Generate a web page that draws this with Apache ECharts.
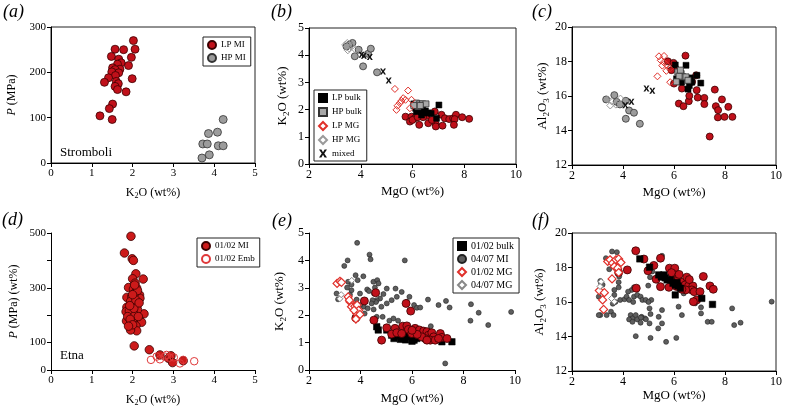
<!DOCTYPE html>
<html><head><meta charset="utf-8">
<script src="https://cdn.jsdelivr.net/npm/echarts@6/dist/echarts.min.js"></script>
<style>html,body{margin:0;padding:0;background:#fff}#c{width:785px;height:411px}</style>
</head><body><div id="c"></div>
<script>
// ---------- data ----------
// (a) Stromboli: [K2O, P]
const aLPMI = [[2.02,270],[2.06,251],[1.57,251],[1.78,250],[1.48,235],[1.97,233],[1.66,229],[1.72,221],[1.63,218],[1.90,215],[1.51,210],[1.69,207],[1.57,206],[1.49,201],[1.66,199],[1.58,193],[1.41,188],[1.31,178],[1.99,186],[1.60,180],[1.65,175],[1.57,169],[1.63,162],[1.84,157],[1.51,130],[1.43,120],[1.20,104],[1.50,96]];
const aHPMI = [[4.22,96],[4.08,68],[3.86,65],[3.72,42],[3.83,42],[4.10,38],[4.22,38],[3.88,18],[3.70,11]];
// (b) Stromboli: [MgO, K2O]
const bLPMI = [[5.73,1.74],[5.96,1.74],[5.90,1.56],[6.09,1.68],[6.26,1.44],[6.61,1.50],[6.90,1.47],[6.90,1.38],[7.16,1.41],[7.12,1.81],[7.25,1.68],[7.42,1.65],[7.57,1.68],[7.68,1.81],[7.63,1.65],[7.60,1.44],[7.92,1.72],[8.19,1.66],[6.54,1.77],[6.41,1.72],[6.86,1.93],[6.00,1.62],[6.20,1.72],[6.75,1.62]];
const bHPMI = [[3.68,4.45],[3.92,4.20],[3.77,3.96],[4.28,4.05],[4.39,4.24],[4.09,3.59],[4.63,3.37],[3.55,4.38],[3.45,4.32]];
const bLPbulk = [[6.05,2.21],[6.12,2.05],[6.25,1.98],[6.35,1.92],[6.45,1.88],[6.60,1.88],[6.72,1.86],[7.02,2.17],[6.93,1.68],[6.15,1.93],[6.35,1.80],[6.50,1.95],[6.20,2.10],[6.40,2.05]];
const bHPbulk = [[6.15,2.24],[6.28,2.21],[6.39,2.21],[6.52,2.21],[6.21,2.11],[6.05,2.15],[6.30,2.15]];
const bLPMG = [[5.32,2.76],[5.83,2.70],[5.64,2.42],[5.57,2.32],[5.73,2.36],[5.42,2.14],[5.38,1.99],[5.96,2.36],[5.90,2.05],[5.51,2.24]];
const bHPMG = [[3.40,4.38],[3.48,4.45],[3.55,4.25],[3.62,4.35],[3.80,4.20],[3.50,4.18]];
const bMixed = [[4.03,4.02],[4.35,3.93],[4.86,3.40],[5.08,3.07],[4.12,3.98]];
// (c) Stromboli: [MgO, Al2O3]
const cLPMI = [[5.76,18.01],[5.98,17.92],[6.45,18.34],[6.00,16.72],[6.19,15.56],[6.37,15.41],[6.31,16.43],[6.58,15.70],[6.60,16.01],[6.71,16.82],[6.89,16.34],[6.93,15.91],[6.87,17.20],[7.19,15.89],[7.19,15.53],[7.40,13.65],[7.60,16.37],[7.64,15.41],[7.73,15.18],[7.72,14.76],[7.88,15.80],[8.13,15.37],[7.98,14.79],[8.29,14.79],[6.05,17.60],[5.90,17.50]];
const cHPMI = [[3.34,15.80],[3.66,16.05],[3.75,15.66],[3.88,15.51],[4.11,15.72],[4.24,15.16],[4.43,15.03],[4.11,14.68],[4.66,14.39]];
const cLPbulk = [[6.05,17.80],[6.47,17.78],[6.10,17.00],[6.30,16.80],[6.60,16.90],[6.60,16.60],[6.55,16.40],[6.70,16.80],[7.05,16.75],[6.90,17.20],[6.35,17.10],[6.65,17.05]];
const cHPbulk = [[6.15,17.39],[6.28,17.30],[6.34,17.11],[6.20,17.15],[6.47,17.11],[6.09,16.82],[6.55,16.91],[6.25,17.50]];
const cLPMG = [[5.41,18.30],[5.61,18.32],[5.35,17.14],[5.54,17.76],[5.70,17.82],[5.83,17.59],[5.85,16.80],[5.48,18.07],[5.70,17.46],[5.60,17.95]];
const cHPMG = [[3.40,15.80],[3.55,15.70],[3.72,15.50],[3.50,15.45],[3.90,15.85]];
const cMixed = [[4.09,15.47],[4.33,15.66],[4.92,16.43],[5.15,16.30]];
// (d) Etna: [K2O, P]
const dMI = [[1.96,488],[1.80,427],[1.99,406],[2.02,400],[2.08,351],[2.00,333],[2.26,332],[2.06,317],[2.10,299],[1.90,301],[2.02,295],[2.17,274],[1.86,265],[1.98,268],[2.18,262],[2.04,241],[1.86,229],[2.10,232],[1.84,213],[2.11,210],[1.98,201],[2.28,205],[1.85,179],[2.16,185],[2.22,174],[1.98,173],[1.98,156],[2.08,161],[2.10,143],[1.95,146],[2.04,88],[2.41,74],[2.67,55],[2.88,43],[2.94,52],[2.98,27],[3.24,34],[2.05,280],[1.95,250],[2.08,255],[2.12,220],[1.92,215],[2.02,190],[1.88,195],[2.06,200],[2.14,195],[1.94,185],[2.00,165],[1.90,160],[2.03,225],[2.12,290],[2.05,310],[2.00,275],[2.16,245],[1.93,235]];
const dEmb = [[2.45,37],[2.59,49],[2.67,39],[2.79,49],[2.83,55],[3.01,46],[3.16,24],[3.24,37],[3.51,32],[2.90,45]];
// (e) Etna: [MgO, K2O]
const eMI0407 = [[3.87,4.64],[4.35,4.21],[4.39,4.04],[3.50,4.00],[3.37,3.80],[5.72,4.00],[3.81,3.46],[3.89,3.28],[3.52,3.22],[3.65,3.12],[3.48,3.01],[4.11,3.42],[3.65,2.91],[3.59,2.75],[3.52,2.63],[3.85,2.57],[3.98,2.79],[4.26,2.94],[4.33,2.88],[4.50,3.22],[4.65,3.28],[4.52,2.79],[4.76,2.61],[4.89,2.77],[4.63,2.55],[5.02,2.97],[5.36,2.97],[5.60,2.85],[5.41,2.67],[5.21,2.55],[5.80,2.49],[6.08,2.37],[6.19,2.27],[6.32,2.28],[6.62,2.57],[7.03,2.37],[7.32,2.52],[7.46,2.28],[8.29,2.40],[8.59,2.09],[8.96,1.64],[9.85,2.12],[8.27,1.80],[5.90,2.67],[4.13,2.31],[4.28,2.25],[4.51,2.21],[4.81,2.31],[5.02,2.43],[4.86,1.94],[4.63,1.94],[5.12,1.80],[5.28,1.88],[5.46,1.80],[4.60,2.48],[4.47,2.55],[3.98,2.37],[3.85,2.21],[4.16,2.06],[4.43,2.43],[6.73,1.60],[7.29,0.24],[3.07,2.79],[3.13,2.58],[4.70,3.16],[4.56,3.01]];
const eMI0102 = [[4.59,2.82],[4.15,2.52],[5.77,2.43],[5.95,2.15],[4.52,1.82],[3.82,1.90],[5.02,1.54],[4.82,1.09],[5.34,1.52],[5.64,1.60],[5.80,1.61],[5.86,1.48],[6.12,1.52],[6.29,1.46],[6.45,1.42],[6.58,1.40],[6.64,1.27],[6.77,1.36],[6.84,1.21],[6.71,1.09],[6.51,1.15],[6.38,1.21],[7.10,1.33],[7.16,1.19],[7.36,1.15],[5.21,1.31],[5.41,1.36],[5.60,1.33],[6.90,1.09],[7.03,1.15],[6.58,1.09],[5.99,1.33],[6.20,1.30],[6.00,1.45]];
const eBulk0102 = [[4.63,1.58],[4.69,1.46],[5.02,1.46],[5.21,1.27],[5.41,1.33],[5.47,1.24],[5.60,1.27],[5.67,1.15],[5.80,1.24],[5.90,1.27],[5.99,1.21],[6.08,1.09],[6.12,1.21],[6.19,1.15],[7.16,1.03],[7.55,1.03],[5.30,1.15],[5.55,1.12],[5.75,1.10],[6.00,1.05]];
const eMG0102 = [[3.09,3.16],[3.20,3.24],[3.26,3.20],[3.52,2.67],[3.59,2.49],[3.65,2.31],[3.57,2.55],[3.78,2.33],[3.87,2.37],[3.85,2.06],[3.93,2.18],[3.98,2.03],[3.82,1.86],[3.75,2.18]];
const eMG0407 = [[3.20,2.60],[3.66,3.27],[3.25,2.75]];
// (f) Etna: [MgO, Al2O3]
const fMI0407 = [[3.57,18.93],[3.76,18.89],[3.33,18.54],[3.46,17.90],[3.85,17.48],[3.83,17.15],[3.11,17.22],[3.14,17.09],[3.05,16.31],[3.11,15.24],[3.05,15.24],[3.36,15.24],[3.53,15.44],[3.63,15.24],[3.66,16.70],[3.66,16.41],[3.83,16.85],[3.89,16.12],[4.06,16.16],[4.14,16.31],[4.24,16.12],[4.34,16.70],[4.43,16.85],[4.43,16.31],[4.56,16.41],[4.69,16.31],[4.76,16.12],[4.89,16.12],[4.30,15.24],[4.37,15.05],[4.24,14.99],[4.37,14.85],[4.50,15.24],[4.56,14.99],[4.69,14.80],[4.73,15.14],[4.86,15.05],[5.04,15.63],[5.08,15.30],[5.11,16.12],[5.04,14.76],[5.40,15.14],[5.38,14.47],[5.53,14.76],[5.53,15.53],[4.50,14.02],[5.08,13.92],[5.69,13.69],[6.09,13.92],[6.31,15.24],[6.18,15.73],[6.38,16.50],[7.06,15.69],[7.06,15.34],[7.32,14.85],[7.48,14.85],[8.28,15.63],[8.36,14.66],[8.61,14.80],[9.83,16.02],[5.06,17.44],[5.28,17.38],[4.99,16.95],[5.15,17.77],[5.53,18.68],[3.85,17.74],[6.83,15.92],[3.20,17.00],[3.60,15.90],[3.70,16.00],[4.20,16.60],[4.40,16.00],[4.70,15.10],[4.90,15.00],[5.00,16.00]];
const fMI0102 = [[4.50,18.97],[4.82,18.49],[5.47,18.54],[5.21,18.12],[4.98,17.81],[4.17,17.86],[3.83,17.71],[4.52,16.80],[5.30,17.32],[5.82,17.96],[6.03,17.96],[6.05,17.57],[5.92,17.28],[6.16,17.28],[6.31,17.15],[6.50,17.44],[6.44,16.99],[6.57,16.93],[6.74,16.93],[6.70,16.70],[6.46,16.70],[6.31,16.74],[6.79,16.60],[7.02,16.60],[6.89,16.12],[6.76,16.02],[7.15,17.48],[7.41,16.93],[7.54,16.74],[5.80,16.85],[5.47,16.89],[5.90,17.70],[6.20,17.60],[6.60,17.30],[6.10,16.90]];
const fBulk0102 = [[4.66,18.50],[5.04,18.02],[5.40,17.57],[5.60,17.57],[5.73,17.28],[5.86,17.28],[5.96,17.09],[6.12,17.13],[6.16,16.93],[6.05,16.41],[6.05,16.99],[6.25,16.80],[7.09,16.21],[7.51,15.86],[5.50,17.45],[5.65,17.40]];
const fMG0102 = [[3.40,18.35],[3.49,18.45],[3.59,18.25],[3.72,18.45],[3.83,18.50],[3.92,18.29],[3.66,18.06],[3.79,17.96],[3.57,17.34],[3.07,16.66],[3.27,16.54],[3.20,16.12],[3.24,15.57],[3.83,17.71]];
const fMG0407 = [[3.14,17.18],[3.66,16.02],[3.10,16.90],[3.55,16.20]];
// axis ranges / labels
const panelLabels = ['(a)','(b)','(c)','(d)','(e)','(f)'];
const xRanges = [[0,5,1],[2,10,2],[2,10,2],[0,5,1],[2,10,2],[2,10,2]];
const yRanges = [[0,300,100],[0,5,1],[12,20,2],[0,500,100],[0,5,1],[12,20,2]];
const dYLabels = [0,100,300,500];

// ---------- chart ----------
const FONT = '"Liberation Serif", "Times New Roman", serif';
const RED = '#c0101a', REDB = '#3b0000', DIAR = '#e0302a';
const XPATH = 'path://M0,0L3,0L5,3.5L7,0L10,0L6.6,5L10,10L7,10L5,6.5L3,10L0,10L3.4,5Z';
const richBase = (fs) => ({
  n:{fontFamily:FONT,fontSize:fs,color:'#000',fontWeight:'normal'},
  i:{fontFamily:FONT,fontSize:fs,color:'#000',fontStyle:'italic',fontWeight:'normal'},
  s:{fontFamily:FONT,fontSize:Math.round(fs*0.68),color:'#000',fontWeight:'normal',padding:[7,0,0,0]}
});
const names = {
  k2o:'{n|K}{s|2}{n|O (wt%)}', mgo:'{n|MgO (wt%)}', al:'{n|Al}{s|2}{n|O}{s|3}{n| (wt%)}',
  p:'{i|P}{n| (MPa)}', pd:'{i|P}{n| (MPa) (wt%)}'
};
const grids = [
  {left:51,top:27,width:204,height:136,show:true},
  {left:309,top:28,width:207,height:136,show:true},
  {left:572,top:27,width:205,height:138,show:true},
  {left:51,top:233,width:204,height:137,show:false},
  {left:309,top:233,width:206,height:137,show:false},
  {left:572,top:233,width:206,height:138,show:true}
].map(g=>Object.assign(g,{borderColor:'#222',borderWidth:1}));
const xNames = [names.k2o,names.mgo,names.mgo,names.k2o,names.mgo,names.mgo];
const yNames = [names.p,names.k2o,names.al,names.pd,names.k2o,names.al];
const xGaps = [22,21,21,22,22,14];
const yGaps = [33,18,21,31,21,24];
const lblFs = [11,12,12,11,12,12];
const nameFs = [12,13,13,12,13,13];
function axis(i, isX){
  const r = isX ? xRanges[i] : yRanges[i];
  const ax = {type:'value',gridIndex:i,min:r[0],max:r[1],interval:r[2],
    name: isX ? xNames[i] : yNames[i], nameLocation:'middle', nameGap: isX ? xGaps[i] : yGaps[i],
    nameTextStyle:{fontFamily:FONT,fontSize:nameFs[i],fontWeight:'normal',color:'#000',rich:richBase(nameFs[i])},
    axisLine:{show:true,onZero:false,lineStyle:{color:'#000',width:1}},
    axisTick:{show:true,length:4,lineStyle:{color:'#000'}},
    axisLabel:{fontFamily:FONT,fontSize:lblFs[i],color:'#000',margin:5},
    splitLine:{show:false}};
  if(!isX && i===3) ax.axisLabel.formatter = v => dYLabels.indexOf(v)>=0 ? String(v) : '';
  return ax;
}
function sc(name, data, gi, symbol, size, color, border, bw, z){
  return {type:'scatter',name,data,xAxisIndex:gi,yAxisIndex:gi,symbol,symbolSize:size,
    itemStyle:{color,borderColor:border,borderWidth:bw,opacity:1},z:z||2,silent:true,
    emphasis:{disabled:true},animation:false};
}
const series = [
  sc('LP MI', aLPMI, 0, 'circle', 8, RED, REDB, 0.8),
  sc('HP MI', aHPMI, 0, 'circle', 8, '#9c9c9c', '#333', 0.8),
  sc('LP MI b', bLPMI, 1, 'circle', 7, RED, REDB, 0.8),
  sc('HP MI b', bHPMI, 1, 'circle', 7, '#9c9c9c', '#333', 0.8),
  sc('LP bulk', bLPbulk, 1, 'rect', 6, '#000', '#000', 0.5, 3),
  sc('HP bulk', bHPbulk, 1, 'rect', 6, '#a8a8a8', '#333', 0.8, 3),
  sc('LP MG', bLPMG, 1, 'diamond', 7, 'rgba(255,255,255,0)', DIAR, 1, 4),
  sc('HP MG', bHPMG, 1, 'diamond', 7, 'rgba(255,255,255,0)', '#9a9a9a', 1, 4),
  sc('mixed', bMixed, 1, XPATH, 6, '#111', '#111', 0, 5),
  sc('LP MI c', cLPMI, 2, 'circle', 7, RED, REDB, 0.8),
  sc('HP MI c', cHPMI, 2, 'circle', 7, '#9c9c9c', '#333', 0.8),
  sc('LP bulk c', cLPbulk, 2, 'rect', 6, '#000', '#000', 0.5, 3),
  sc('HP bulk c', cHPbulk, 2, 'rect', 6, '#a8a8a8', '#333', 0.8, 3),
  sc('LP MG c', cLPMG, 2, 'diamond', 7, 'rgba(255,255,255,0)', DIAR, 1, 4),
  sc('HP MG c', cHPMG, 2, 'diamond', 7, 'rgba(255,255,255,0)', '#9a9a9a', 1, 4),
  sc('mixed c', cMixed, 2, XPATH, 6, '#111', '#111', 0, 5),
  sc('01/02 MI', dMI, 3, 'circle', 8.5, '#cc1a1a', '#3b0000', 0.8),
  sc('01/02 Emb', dEmb, 3, 'circle', 7.5, 'rgba(255,255,255,0)', '#e0393a', 1, 3),
  sc('04/07 MI', eMI0407, 4, 'circle', 5, '#5e5e5e', '#222', 0.6),
  sc('01/02 bulk', eBulk0102, 4, 'rect', 6.5, '#000', '#000', 0.5, 3),
  sc('01/02 MI e', eMI0102, 4, 'circle', 8, RED, REDB, 0.8, 3),
  sc('01/02 MG', eMG0102, 4, 'diamond', 8, '#fff', DIAR, 1.2, 4),
  sc('04/07 MG', eMG0407, 4, 'diamond', 6, '#fff', '#888', 1, 4),
  sc('04/07 MI f', fMI0407, 5, 'circle', 5, '#5e5e5e', '#222', 0.6),
  sc('01/02 MI f', fMI0102, 5, 'circle', 8, RED, REDB, 0.8, 3),
  sc('01/02 bulk f', fBulk0102, 5, 'rect', 6.5, '#000', '#000', 0.5, 3),
  sc('01/02 MG f', fMG0102, 5, 'diamond', 8, '#fff', DIAR, 1.2, 4),
  sc('04/07 MG f', fMG0407, 5, 'diamond', 6, '#fff', '#888', 1, 4)
];
const lgBase = (data, left, top, fs, gap) => ({data, orient:'vertical', left, top, itemWidth:8, itemHeight:8,
  itemGap:gap, padding:[3,5,3,4], borderColor:'#222', borderWidth:1, backgroundColor:'#fff',
  selectedMode:false, textStyle:{fontFamily:FONT,fontSize:fs,color:'#000'}, z:10});
const legends = [
  lgBase(['LP MI','HP MI'], 203, 37, 9, 3),
  lgBase(['LP bulk','HP bulk','LP MG','HP MG','mixed'], 314, 90, 9, 4),
  lgBase(['01/02 MI','01/02 Emb'], 197, 238, 9, 3),
  lgBase(['01/02 bulk','04/07 MI','01/02 MG','04/07 MG'], 453, 238, 10, 3)
];
const labelPos = [[3,3],[271,3],[532,3],[2,211],[272,212],[532,212]];
const graphics = panelLabels.map((t,i)=>({type:'text',left:labelPos[i][0],top:labelPos[i][1],
  style:{text:t,fontFamily:FONT,fontStyle:'italic',fontSize:18,fill:'#000'}}));
graphics.push({type:'text',left:60,top:146,style:{text:'Stromboli',fontFamily:FONT,fontSize:13,fill:'#000'}});
graphics.push({type:'text',left:60,top:349,style:{text:'Etna',fontFamily:FONT,fontSize:13,fill:'#000'}});

const chart = echarts.init(document.getElementById('c'), null, {renderer:'canvas'});
chart.setOption({
  backgroundColor:'#fff', animation:false,
  textStyle:{fontFamily:FONT},
  grid: grids,
  xAxis: [0,1,2,3,4,5].map(i=>axis(i,true)),
  yAxis: [0,1,2,3,4,5].map(i=>axis(i,false)),
  legend: legends,
  series, graphic: graphics
});
</script></body></html>
